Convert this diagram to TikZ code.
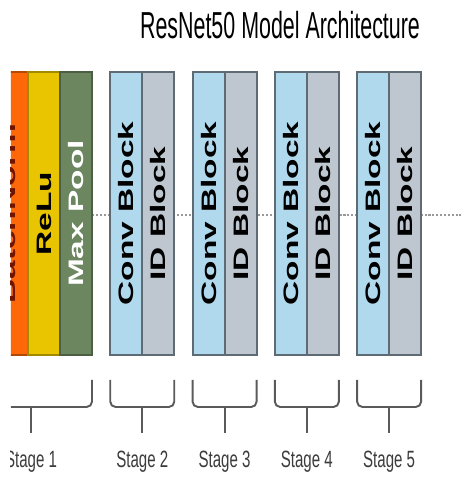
\documentclass[tikz,border=0pt]{standalone}
\usepackage{fontspec}
\setmainfont{Liberation Sans}
\usepackage{xcolor}
\usepackage{tikz}
\usetikzlibrary{positioning}
\usetikzlibrary{calc}
\definecolor{bnorange}{RGB}{255,104,8}
\definecolor{bntext}{RGB}{110,20,0}
\definecolor{reluyellow}{RGB}{232,197,0}
\definecolor{poolgreen}{RGB}{108,134,96}
\definecolor{convblue}{RGB}{176,217,238}
\definecolor{idgray}{RGB}{190,198,207}
\definecolor{edgegray}{RGB}{95,107,116}
\definecolor{bracegray}{RGB}{90,90,90}
\definecolor{lblgray}{RGB}{60,60,60}
\tikzset{
    blk/.style = {rectangle, minimum width=0.64cm, minimum height=5.66cm, inner sep=0pt, outer sep=0pt, line width=1.1pt},
    bn_blk/.style = {blk, fill=bnorange, draw=bnorange!70!black},
    relu_blk/.style = {blk, fill=reluyellow, draw=reluyellow!70!black},
    pool_blk/.style = {blk, fill=poolgreen, draw=poolgreen!70!black},
    conv_blk/.style = {blk, fill=convblue, draw=edgegray},
    id_blk/.style = {blk, fill=idgray, draw=edgegray},
    vtxt/.style = {rotate=90, xscale=1.6, inner sep=0pt, font=\bfseries\fontsize{11.9}{14}\selectfont}
}
\tikzset{
    brc/.style = {draw=bracegray, line width=1.1pt, rounded corners=3pt},
    stage_lbl/.style = {anchor=base, xscale=0.64, inner sep=0pt, text=lblgray, font=\fontsize{13.4}{16}\selectfont},
    title_lbl/.style = {anchor=base, xscale=0.57, inner sep=0pt, font=\fontsize{21.4}{26}\selectfont},
    dotline/.style = {draw=gray!80, line width=1.2pt, dash pattern=on 1.2pt off 1pt}
}
\newcommand{\stagebrace}[4]{%
    \draw[brc] ([yshift=-0.5cm]#1) -- ([yshift=-1.04cm]#1) -- ([yshift=-1.04cm]#2) -- ([yshift=-0.5cm]#2);
    \coordinate (#3) at ($(#1)!0.5!(#2)$);
    \draw[brc] ([yshift=-1.04cm]#3) -- ([yshift=-1.56cm]#3);
    \node[stage_lbl] (#3lbl) at ([yshift=-2.26cm]#3) {#4};
}

\begin{document}
\begin{tikzpicture}
            [x=0.02cm, y=-0.02cm, node distance=0.366cm]

            \useasboundingbox (0,0) rectangle (467,485);
            \clip (11,0) rectangle (467,485);

            \node [title_lbl] (title) at (280,38) {ResNet50 Model Architecture};

            \coordinate (dotstart) at (11,215);
            \coordinate (dotend) at (463,215);
            \draw [dotline] (dotstart) -- (dotend);

            \node [bn_blk] (bn) at (12,213.5) {};
            \node [relu_blk, right=0cm of bn] (relu) {};
            \node [pool_blk, right=0cm of relu] (pool) {};
            \node [conv_blk, right=of pool] (conv2) {};
            \node [id_blk, right=0cm of conv2] (id2) {};
            \node [conv_blk, right=of id2] (conv3) {};
            \node [id_blk, right=0cm of conv3] (id3) {};
            \node [conv_blk, right=of id3] (conv4) {};
            \node [id_blk, right=0cm of conv4] (id4) {};
            \node [conv_blk, right=of id4] (conv5) {};
            \node [id_blk, right=0cm of conv5] (id5) {};

            \node [vtxt, text=bntext] (bntx) at ([xshift=-0.08cm]bn.center) {BatchNorm};
            \node [vtxt] (relutx) at (relu) {ReLu};
            \node [vtxt, text=white] (pooltx) at (pool) {Max Pool};
            \foreach \s in {2,3,4,5} {
                \node [vtxt] (convtx\s) at (conv\s) {Conv Block};
                \node [vtxt] (idtx\s) at (id\s) {ID Block};
            }

            \coordinate (s1w) at ([xshift=-0.52cm]bn.south west);
            \stagebrace{s1w}{pool.south east}{s1}{Stage 1}
            \foreach \s in {2,3,4,5} {
                \stagebrace{conv\s.south west}{id\s.south east}{s\s}{Stage \s}
            }
        \end{tikzpicture}
\end{document}
